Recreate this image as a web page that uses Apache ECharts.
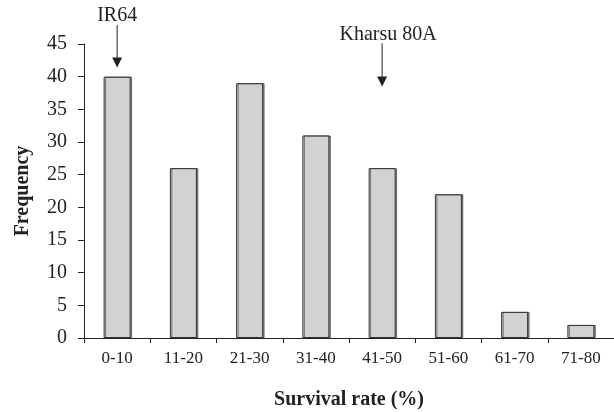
<!DOCTYPE html>
<html>
	<head>
		<meta charset="utf-8">
		<title></title>
		<style>
			html, body { margin: 0; padding: 0; background: #fff; }
			#main { width: 614px; height: 412px; }
		</style>
	</head>
	<body>
		<div id="main"></div>
		<script src="https://cdn.jsdelivr.net/npm/echarts@6/dist/echarts.min.js"></script>
		<script type="text/javascript">
			// 数据
			var categories = ['0-10', '11-20', '21-30', '31-40', '41-50', '51-60', '61-70', '71-80'];
			var frequency = [40, 26, 39, 31, 26, 22, 4, 2];
			var yTicks = [0, 5, 10, 15, 20, 25, 30, 35, 40, 45];
			// 箭头标注: 名称, 类别序号, 起点值, 终点值
			var noteNames = ['IR64', 'Kharsu 80A'];
			var noteCats = [0, 4];
			var noteFrom = [47.9, 45.1];
			var noteTo = [41.4, 38.5];

			var serif = '"Liberation Serif", "DejaVu Serif", serif';
			var myChart = echarts.init(document.getElementById('main'));

			var arrowData = [];
			for (var i = 0; i < noteNames.length; i++) {
				arrowData.push([noteCats[i], noteFrom[i], noteTo[i]]);
			}

			// 画箭头和文字
			function renderArrow(params, api) {
				var p0 = api.coord([api.value(0), api.value(1)]);
				var p1 = api.coord([api.value(0), api.value(2)]);
				var name = noteNames[params.dataIndex];
				return {
					type: 'group',
					children: [
						{
							type: 'line',
							shape: { x1: p0[0], y1: p0[1], x2: p1[0], y2: p1[1] - 9 },
							style: { stroke: '#222', lineWidth: 1 }
						},
						{
							type: 'polygon',
							shape: { points: [[p1[0] - 5, p1[1] - 10], [p1[0] + 5, p1[1] - 10], [p1[0], p1[1]]] },
							style: { fill: '#222' }
						},
						{
							type: 'text',
							x: p0[0] + (params.dataIndex === 1 ? 6 : 0),
							y: p0[1] + 1,
							style: {
								text: name,
								font: '20px ' + serif,
								fill: '#222',
								align: 'center',
								verticalAlign: 'bottom'
							}
						}
					]
				};
			}

			var option = {
				animation: false,
				grid: { left: 84, right: 0, top: 44, bottom: 74, containLabel: false, outerBoundsMode: 'none' },
				xAxis: {
					type: 'category',
					data: categories,
					name: 'Survival rate (%)',
					nameLocation: 'middle',
					nameGap: 52,
					nameTextStyle: { fontFamily: serif, fontSize: 20, fontWeight: 'bold', color: '#222' },
					axisLine: { lineStyle: { color: '#222', width: 1 } },
					axisTick: { show: true, length: 5, alignWithLabel: false, lineStyle: { color: '#222' } },
					axisLabel: { fontFamily: serif, fontSize: 17, color: '#222', margin: 12 }
				},
				yAxis: {
					type: 'value',
					min: yTicks[0],
					max: yTicks[yTicks.length - 1],
					interval: 5,
					name: 'Frequency',
					nameLocation: 'middle',
					nameGap: 51,
					nameRotate: 90,
					nameTextStyle: { fontFamily: serif, fontSize: 20, fontWeight: 'bold', color: '#222' },
					axisLine: { show: true, lineStyle: { color: '#222', width: 1 } },
					axisTick: { show: true, length: 6, lineStyle: { color: '#222' } },
					axisLabel: { fontFamily: serif, fontSize: 20, color: '#222', margin: 17 },
					splitLine: { show: false }
				},
				series: [
					{
						type: 'bar',
						data: frequency,
						barWidth: 27,
						itemStyle: {
							color: '#d2d2d2',
							borderColor: '#333',
							borderWidth: 1,
							shadowColor: 'rgba(0,0,0,0.45)',
							shadowOffsetX: 1.5,
							shadowOffsetY: 0,
							shadowBlur: 0
						}
					},
					{
						type: 'custom',
						clip: false,
						silent: true,
						renderItem: renderArrow,
						data: arrowData,
						z: 5
					}
				]
			};
			myChart.setOption(option);
		</script>
	</body>
</html>
